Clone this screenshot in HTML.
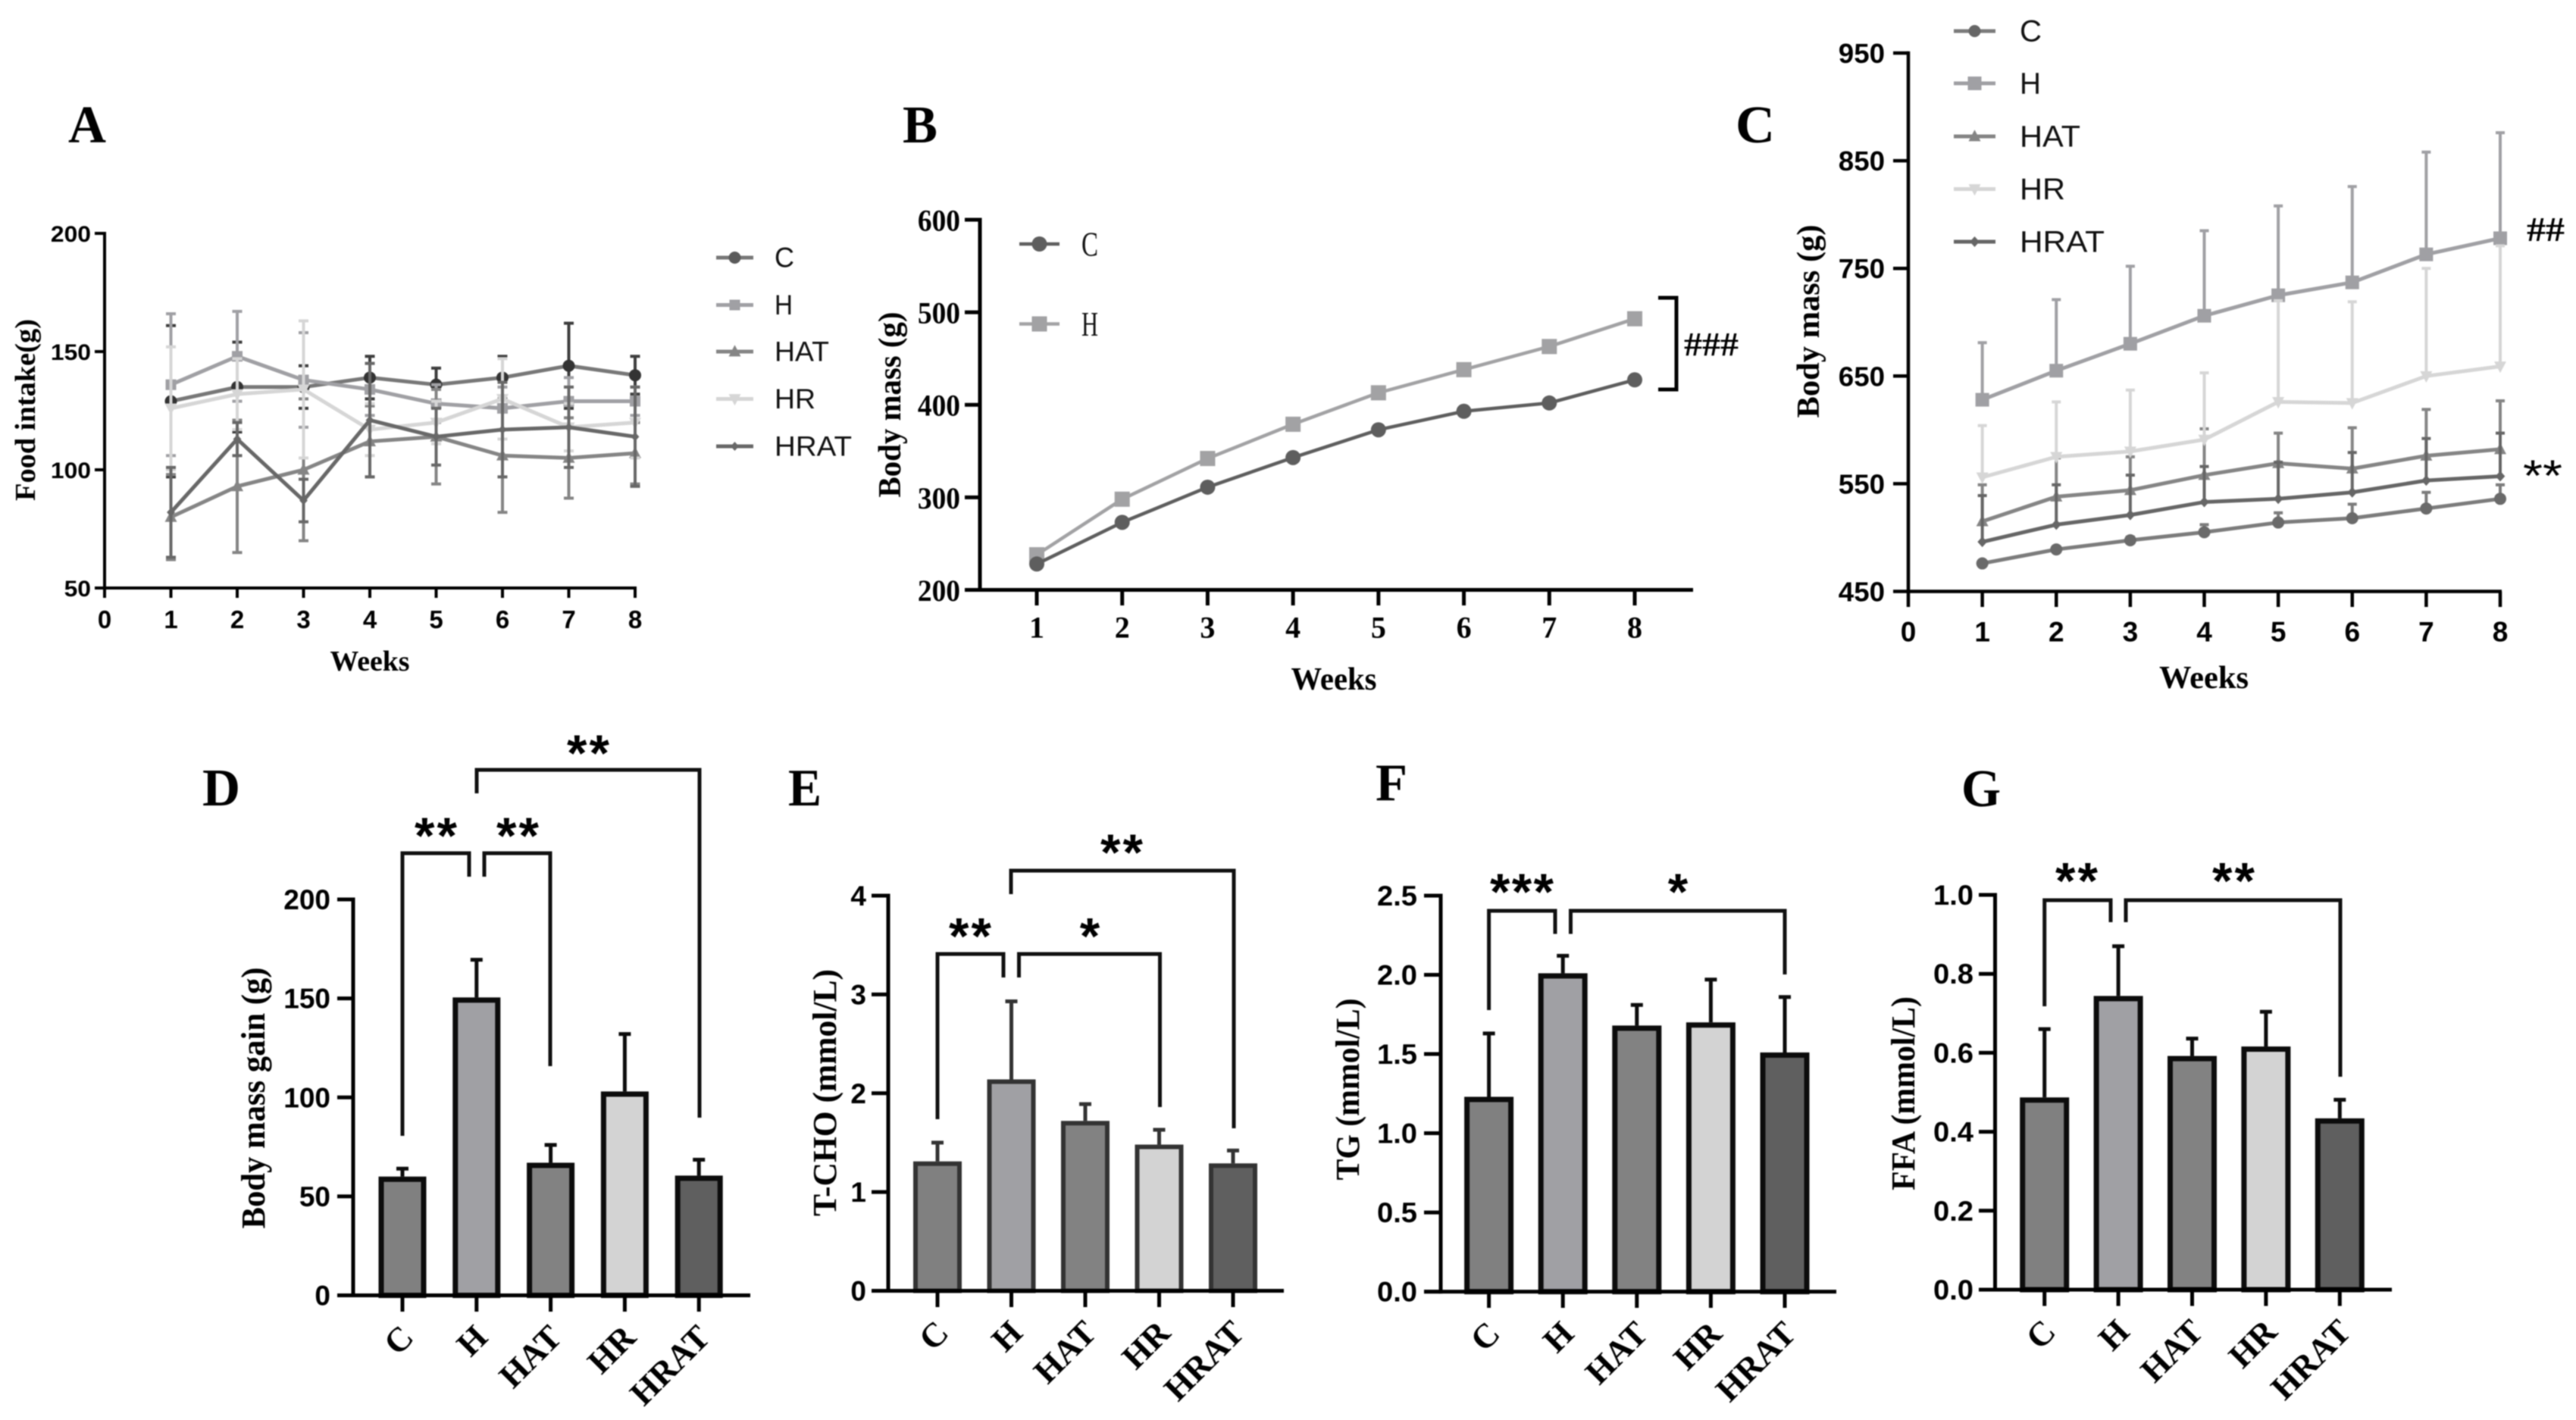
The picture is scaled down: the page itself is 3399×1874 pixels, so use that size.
<!DOCTYPE html>
<html lang="en">
<head>
<meta charset="utf-8">
<title>Body mass, food intake and serum lipid figure</title>
<style>
html,body{margin:0;padding:0;background:#fff;}
body{width:3399px;height:1874px;overflow:hidden;}
#figure{display:block;filter:blur(0.9px);}
</style>
</head>
<body>
<svg id="figure" xmlns="http://www.w3.org/2000/svg" width="3399" height="1874" viewBox="0 0 3399 1874"></svg>
<script>
/* ---------- shared categories ---------- */
const weeks = [1, 2, 3, 4, 5, 6, 7, 8];
const groups = ['C', 'H', 'HAT', 'HR', 'HRAT'];

/* ---------- panel A: food intake ---------- */
const foodC = [129, 135, 135, 139, 136, 139, 144, 140];
const foodH = [136, 148, 138, 134, 128, 126, 129, 129];
const foodHAT = [80, 93, 100, 112, 114, 106, 105, 107];
const foodHR = [126, 132, 134, 117, 120, 130, 118, 120];
const foodHRAT = [82, 113, 87, 121, 114, 117, 118, 114];
const foodErrC = [32, 19, 9, 9, 7, 9, 18, 8];
const foodErrH = [30, 19, 20, 11, 8, 9, 10, 6];
const foodErrHAT = [18, 28, 30, 15, 20, 24, 17, 13];
const foodErrHR = [26, 15, 29, 11, 9, 17, 10, 15];
const foodErrHRAT = [19, 7, 9, 24, 12, 20, 17, 21];
const foodYTicks = ['50', '100', '150', '200'];
const foodXTicks = ['0', '1', '2', '3', '4', '5', '6', '7', '8'];

/* ---------- panel B: body mass, C vs H ---------- */
const massBC = [228, 273, 311, 343, 373, 393, 402, 427];
const massBH = [238, 298, 342, 379, 413, 438, 463, 493];
const massBYTicks = ['200', '300', '400', '500', '600'];
const massBXTicks = ['1', '2', '3', '4', '5', '6', '7', '8'];

/* ---------- panel C: body mass, all groups ---------- */
const massCC = [476, 489, 497.5, 505, 514, 518, 527, 536];
const massCH = [628, 655, 680, 706, 725, 737, 763, 778];
const massCHAT = [515, 538, 544, 558, 569, 564, 576, 582];
const massCHR = [556, 575, 580, 591, 626, 625, 650, 659];
const massCHRAT = [496, 512, 521, 533, 536, 542, 553, 557];
const massErrC = [2, 2, 3, 7, 9, 13, 15, 13];
const massErrH = [53, 66, 72, 79, 83, 89, 95, 98];
const massErrHAT = [34, 36, 31, 43, 28, 38, 43, 45];
const massErrHR = [48, 51, 57, 62, 94, 94, 100, 112];
const massErrHRAT = [43, 37, 37, 33, 34, 37, 39, 40];
const massCYTicks = ['450', '550', '650', '750', '850', '950'];
const massCXTicks = ['0', '1', '2', '3', '4', '5', '6', '7', '8'];

/* ---------- panels D-G: bars ---------- */
const gainValues = [60, 150.5, 67, 103, 60.5];
const gainErrors = [4, 19, 9, 29, 8];
const gainTicks = ['0', '50', '100', '150', '200'];
const tchoValues = [1.31, 2.14, 1.72, 1.48, 1.29];
const tchoErrors = [0.19, 0.79, 0.17, 0.15, 0.13];
const tchoTicks = ['0', '1', '2', '3', '4'];
const tgValues = [1.23, 2.01, 1.68, 1.7, 1.51];
const tgErrors = [0.4, 0.11, 0.13, 0.27, 0.35];
const tgTicks = ['0.0', '0.5', '1.0', '1.5', '2.0', '2.5'];
const ffaValues = [0.487, 0.744, 0.592, 0.616, 0.434];
const ffaErrors = [0.173, 0.126, 0.044, 0.088, 0.047];
const ffaTicks = ['0.0', '0.2', '0.4', '0.6', '0.8', '1.0'];

/* ---------- helpers ---------- */
const NS = 'http://www.w3.org/2000/svg';
const root = document.getElementById('figure');
const SERIF = '"Liberation Serif", serif';
const SANS = '"Liberation Sans", sans-serif';
const barFills = ['#808080', '#a0a0a4', '#828282', '#d3d3d3', '#5f5f5f'];

function scale(d0, d1, r0, r1) {
  return function (v) { return r0 + (v - d0) / (d1 - d0) * (r1 - r0); };
}
function make(tag, attrs, parent) {
  const el = document.createElementNS(NS, tag);
  for (const k in attrs) el.setAttribute(k, attrs[k]);
  (parent || root).appendChild(el);
  return el;
}
function group(parent) {
  return make('g', {}, parent);
}
function seg(parent, x1, y1, x2, y2, color, w) {
  return make('line', { x1: x1, y1: y1, x2: x2, y2: y2, stroke: color, 'stroke-width': w }, parent);
}
function label(parent, str, x, y, o) {
  const a = {
    x: x, y: y, fill: o.fill || '#000', 'font-family': o.family || SANS,
    'font-size': o.size, 'font-weight': o.weight || 'bold', 'text-anchor': o.anchor || 'middle'
  };
  if (o.len) { a.textLength = o.len; a.lengthAdjust = o.adjust || 'spacingAndGlyphs'; }
  if (o.rot !== undefined) a.transform = 'rotate(' + o.rot + ' ' + x + ' ' + y + ')';
  const t = make('text', a, parent);
  t.textContent = str;
  return t;
}
function marker(parent, kind, x, y, s, fill) {
  if (kind === 'circle') return make('circle', { cx: x, cy: y, r: s, fill: fill }, parent);
  if (kind === 'square') return make('rect', { x: x - s, y: y - s, width: 2 * s, height: 2 * s, fill: fill }, parent);
  let pts;
  if (kind === 'up') pts = [[x, y - s * 1.1], [x + s, y + s * 0.8], [x - s, y + s * 0.8]];
  else if (kind === 'down') pts = [[x, y + s * 1.1], [x + s, y - s * 0.8], [x - s, y - s * 0.8]];
  else pts = [[x, y - s], [x + s * 0.9, y], [x, y + s], [x - s * 0.9, y]];
  return make('polygon', { points: pts.map(function (p) { return p.join(','); }).join(' '), fill: fill }, parent);
}
function panelLetter(str, x, y, w) {
  const t = label(root, str, x, y, { family: SERIF, size: 70, anchor: 'start', len: w });
  
  
}

/* ---------- line chart ---------- */
function lineChart(cfg) {
  const g = group();
  
  
  const X = scale(cfg.xDomain[0], cfg.xDomain[1], cfg.x0, cfg.x1);
  const Y = scale(cfg.yDomain[0], cfg.yDomain[1], cfg.yBottom, cfg.yTop);

  const ya = seg(g, cfg.spine, cfg.yTop - cfg.axisW / 2, cfg.spine, cfg.yBottom + cfg.axisW / 2, '#000', cfg.axisW);
  
  
  const xa = seg(g, cfg.spine - cfg.axisW / 2, cfg.yBottom, cfg.xEnd, cfg.yBottom, '#000', cfg.axisW);
  
  

  cfg.yTicks.forEach(function (s) {
    const v = parseFloat(s);
    const tick = seg(g, cfg.tickLeft, Y(v), cfg.spine, Y(v), '#000', cfg.axisW);
    
    
    const t = label(g, s, cfg.yLabelRight, Y(v) + cfg.ySize * 0.36, { family: cfg.tickFamily, size: cfg.ySize, anchor: 'end', len: cfg.yCharW * s.length });
    
    
  });
  cfg.xTicks.forEach(function (s) {
    const v = parseFloat(s);
    const tick = seg(g, X(v), cfg.yBottom, X(v), cfg.tickBottom, '#000', cfg.axisW);
    
    
    const t = label(g, s, X(v), cfg.xLabelY + cfg.xSize * 0.36, { family: cfg.tickFamily, size: cfg.xSize });
    
    
  });

  const xt = label(g, 'Weeks', cfg.xTitle[0], cfg.xTitle[1], { family: SERIF, size: cfg.titleSize, len: cfg.xTitle[2] });
  
  
  const yt = label(g, cfg.yTitle[0], cfg.yTitle[1], cfg.yTitle[2], { family: SERIF, size: cfg.titleSize, len: cfg.yTitle[3], rot: -90 });
  
  

  cfg.series.forEach(function (s) {
    const sg = group(g);
    
    
    if (s.errors) {
      weeks.forEach(function (w, i) {
        const up = s.values[i] + s.errors[i];
        const lo = cfg.both ? s.values[i] - s.errors[i] : s.values[i];
        const col = s.errColor || s.color;
        const bar = seg(sg, X(w), Y(lo), X(w), Y(up), col, cfg.errW);
        
        
        const cap = seg(sg, X(w) - cfg.cap, Y(up), X(w) + cfg.cap, Y(up), col, cfg.errW);
        
        
        if (cfg.both) {
          const cap2 = seg(sg, X(w) - cfg.cap, Y(lo), X(w) + cfg.cap, Y(lo), col, cfg.errW);
          
          
        }
      });
    }
    const d = weeks.map(function (w, i) { return X(w) + ',' + Y(s.values[i]); }).join(' ');
    const line = make('polyline', { points: d, fill: 'none', stroke: s.color, 'stroke-width': cfg.lineW, 'stroke-linejoin': 'round' }, sg);
    
    
    weeks.forEach(function (w, i) {
      const m = marker(sg, s.kind, X(w), Y(s.values[i]), s.size, s.markColor || s.color);
      
      
    });
  });

  const L = cfg.legend;
  cfg.series.forEach(function (s, i) {
    const lg = group(g);
    
    
    const y = L.ys[i];
    seg(lg, L.x0, y, L.x1, y, s.color, cfg.lineW);
    marker(lg, s.kind, (L.x0 + L.x1) / 2, y, s.size, s.legendMark || s.color);
    label(lg, s.name, L.textX, y + L.size * 0.34, {
      family: L.family, size: L.size, weight: 'normal', anchor: 'start', fill: '#111',
      len: L.lens ? L.lens[i] : undefined
    });
  });
  return { g: g, X: X, Y: Y };
}

/* ---------- bar chart ---------- */
function barChart(cfg) {
  const g = group();
  
  
  const top = parseFloat(cfg.ticks[cfg.ticks.length - 1]);
  const Y = scale(0, top, cfg.y0, cfg.yTop);
  const X = function (i) { return cfg.x1st + i * cfg.step; };

  groups.forEach(function (name, i) {
    const v = cfg.values[i];
    const e = cfg.errors[i];
    const cx = X(i);
    const bar = seg(g, cx, Y(v + e), cx, Y(v), cfg.border, cfg.errW);
    
    
    const cap = seg(g, cx - cfg.cap, Y(v + e), cx + cfg.cap, Y(v + e), cfg.border, cfg.errW);
    
    
    const r = make('rect', {
      x: cx - cfg.barW / 2 + cfg.barStroke / 2, y: Y(v) + cfg.barStroke / 2,
      width: cfg.barW - cfg.barStroke, height: cfg.y0 - Y(v) - cfg.barStroke / 2,
      fill: barFills[i], stroke: cfg.border, 'stroke-width': cfg.barStroke
    }, g);
    
    
    const tick = seg(g, cx, cfg.y0, cx, cfg.tickBottom, '#000', cfg.axisW);
    
    
    const t = label(g, name, cx + 17, cfg.y0 + 58, { family: SERIF, size: 45, anchor: 'end', rot: -45 });
    
    
  });

  const ya = seg(g, cfg.x0, cfg.yTop - cfg.axisW / 2, cfg.x0, cfg.y0 + cfg.axisW / 2, '#000', cfg.axisW);
  
  
  const xa = seg(g, cfg.tickLeft, cfg.y0, cfg.xEnd, cfg.y0, '#000', cfg.axisW);
  
  

  cfg.ticks.forEach(function (s) {
    const v = parseFloat(s);
    const tick = seg(g, cfg.tickLeft, Y(v), cfg.x0, Y(v), '#000', cfg.axisW);
    
    
    const t = label(g, s, cfg.labelRight, Y(v) + 13, { size: 37, anchor: 'end', len: s.length === 3 && s.indexOf('.') > 0 ? 53 : undefined });
    
    
  });

  const yt = label(g, cfg.title[0], cfg.title[1] + 14, cfg.title[2], { family: SERIF, size: 44, len: cfg.title[3], rot: -90 });
  
  

  cfg.brackets.forEach(function (b) {
    const path = make('polyline', {
      points: b[0] + ',' + b[3] + ' ' + b[0] + ',' + b[2] + ' ' + b[1] + ',' + b[2] + ' ' + b[1] + ',' + b[4],
      fill: 'none', stroke: '#111', 'stroke-width': 5
    }, g);
    
    
  });
  cfg.stars.forEach(function (s) {
    const t = label(g, s[0], s[1], s[2] + 34, { size: 68, len: s[0].length * 28, adjust: 'spacing' });
    
    
  });
}

/* ---------- panel letters ---------- */
panelLetter('A', 90, 188, 50);
panelLetter('B', 1191, 188, 46);
panelLetter('C', 2290, 188, 52);
panelLetter('D', 267, 1063, 50);
panelLetter('E', 1040, 1063, 44);
panelLetter('F', 1815, 1056, 42);
panelLetter('G', 2588, 1064, 52);

/* ---------- panel A ---------- */
lineChart({
  name: 'food-intake-chart', xDomain: [0, 8], yDomain: [50, 200],
  spine: 138, x0: 138, x1: 838, xEnd: 840, yBottom: 776, yTop: 308, axisW: 4,
  tickLeft: 125, tickBottom: 789, yLabelRight: 120, ySize: 30, yCharW: 17.7,
  xLabelY: 817, xSize: 33, tickFamily: SANS, titleSize: 38,
  xTitle: [488, 885, 105], yTitle: ['Food intake(g)', 46, 541, 240],
  yTicks: foodYTicks, xTicks: foodXTicks, lineW: 5, errW: 4, cap: 6.5, both: true,
  series: [
    { name: 'C', values: foodC, errors: foodErrC, kind: 'circle', size: 8, color: '#787878', errColor: '#3e3e3e', markColor: '#333', legendMark: '#5a5a5a' },
    { name: 'H', values: foodH, errors: foodErrH, kind: 'square', size: 7, color: '#a0a0a4' },
    { name: 'HAT', values: foodHAT, errors: foodErrHAT, kind: 'up', size: 8, color: '#858585' },
    { name: 'HR', values: foodHR, errors: foodErrHR, kind: 'down', size: 8, color: '#d6d6d6' },
    { name: 'HRAT', values: foodHRAT, errors: foodErrHRAT, kind: 'diamond', size: 6, color: '#686868' }
  ],
  legend: { x0: 945, x1: 994, textX: 1022, size: 37, family: SANS, ys: [340, 402.5, 464, 526.5, 589], lens: [26, 24, 72, 54, 102] }
});

/* ---------- panel B ---------- */
const chartB = lineChart({
  name: 'body-mass-chart-b', xDomain: [1, 8], yDomain: [200, 600],
  spine: 1293, x0: 1368, x1: 2157, xEnd: 2234, yBottom: 778.5, yTop: 290, axisW: 5,
  tickLeft: 1273, tickBottom: 799, yLabelRight: 1267, ySize: 40, yCharW: 18.7,
  xLabelY: 827, xSize: 40, tickFamily: SERIF, titleSize: 42,
  xTitle: [1760, 910, 113], yTitle: ['Body mass (g)', 1188, 534, 245],
  yTicks: massBYTicks, xTicks: massBXTicks, lineW: 4.5, errW: 3, cap: 6, both: false,
  series: [
    { name: 'H', values: massBH, kind: 'square', size: 10, color: '#a2a2a4' },
    { name: 'C', values: massBC, kind: 'circle', size: 10, color: '#5e5e5e' }
  ],
  legend: { x0: 1345, x1: 1398, textX: 1427, size: 46, family: SERIF, ys: [427.5, 322], lens: [22, 22] }
});
const bracketB = make('polyline', { points: '2188,393 2212,393 2212,514 2188,514', fill: 'none', stroke: '#000', 'stroke-width': 5 }, chartB.g);


const hashB = label(chartB.g, '###', 2258, 469, { family: SERIF, size: 44, len: 72 });



/* ---------- panel C ---------- */
const chartC = lineChart({
  name: 'body-mass-chart-c', xDomain: [0, 8], yDomain: [450, 950],
  spine: 2518, x0: 2518, x1: 3299, xEnd: 3301, yBottom: 780.5, yTop: 70, axisW: 4.5,
  tickLeft: 2498, tickBottom: 801, yLabelRight: 2487, ySize: 36, yCharW: 20.4,
  xLabelY: 833, xSize: 37, tickFamily: SANS, titleSize: 42,
  xTitle: [2908, 908, 118], yTitle: ['Body mass (g)', 2400, 424, 255],
  yTicks: massCYTicks, xTicks: massCXTicks, lineW: 5, errW: 4, cap: 6, both: false,
  series: [
    { name: 'C', values: massCC, errors: massErrC, kind: 'circle', size: 8, color: '#7c7c7c', markColor: '#6a6a6a', legendMark: '#666' },
    { name: 'H', values: massCH, errors: massErrH, kind: 'square', size: 9, color: '#a0a0a4' },
    { name: 'HAT', values: massCHAT, errors: massErrHAT, kind: 'up', size: 8, color: '#858585' },
    { name: 'HR', values: massCHR, errors: massErrHR, kind: 'down', size: 8, color: '#d6d6d6' },
    { name: 'HRAT', values: massCHRAT, errors: massErrHRAT, kind: 'diamond', size: 7, color: '#666' }
  ],
  legend: { x0: 2578, x1: 2633, textX: 2665, size: 40, family: SANS, ys: [41, 110, 180, 249.5, 319], lens: [29, 28, 80, 60, 112] }
});
const hashC = label(chartC.g, '##', 3359, 318, { family: SERIF, size: 46, len: 50 });


const starC = label(chartC.g, '**', 3355, 648, { size: 58, weight: 'normal', len: 52 });



/* ---------- panel D ---------- */
barChart({
  name: 'body-mass-gain-chart', values: gainValues, errors: gainErrors, ticks: gainTicks,
  x0: 466, xEnd: 990, tickLeft: 445, y0: 1709.5, yTop: 1187, tickBottom: 1731, labelRight: 436,
  x1st: 531, step: 97.8, barW: 63, barStroke: 7, errW: 5, cap: 8, axisW: 5, border: '#0c0c0c',
  title: ['Body mass gain (g)', 335, 1449, 345],
  brackets: [[531, 619, 1126, 1499, 1157], [639, 726, 1126, 1157, 1407], [629, 923, 1016, 1047, 1475]],
  stars: [['**', 575, 1092], ['**', 683, 1092], ['**', 776, 983]]
});

/* ---------- panel E ---------- */
barChart({
  name: 'tcho-chart', values: tchoValues, errors: tchoErrors, ticks: tchoTicks,
  x0: 1172, xEnd: 1694, tickLeft: 1150, y0: 1703.5, yTop: 1182, tickBottom: 1725, labelRight: 1143,
  x1st: 1237, step: 97.5, barW: 64, barStroke: 6, errW: 5, cap: 8, axisW: 5, border: '#333',
  title: ['T-CHO (mmol/L)', 1089, 1442, 326],
  brackets: [[1237, 1324, 1259, 1477, 1290], [1344.5, 1530.5, 1259, 1290, 1461], [1334, 1628, 1149, 1180, 1489]],
  stars: [['**', 1280, 1224.6], ['*', 1438, 1224.6], ['**', 1480, 1114]]
});

/* ---------- panel F ---------- */
barChart({
  name: 'tg-chart', values: tgValues, errors: tgErrors, ticks: tgTicks,
  x0: 1901, xEnd: 2423, tickLeft: 1879, y0: 1704.6, yTop: 1182, tickBottom: 1726, labelRight: 1870,
  x1st: 1964.6, step: 97.6, barW: 65, barStroke: 7, errW: 5, cap: 8, axisW: 5, border: '#0c0c0c',
  title: ['TG (mmol/L)', 1779, 1437.5, 240],
  brackets: [[1964.6, 2052, 1202, 1333, 1232.5], [2072.5, 2355, 1202, 1232.5, 1286]],
  stars: [['***', 2008, 1166], ['*', 2214, 1166]]
});

/* ---------- panel G ---------- */
barChart({
  name: 'ffa-chart', values: ffaValues, errors: ffaErrors, ticks: ffaTicks,
  x0: 2632.5, xEnd: 3156, tickLeft: 2611, y0: 1702, yTop: 1181, tickBottom: 1723.5, labelRight: 2604,
  x1st: 2697.7, step: 97.4, barW: 65, barStroke: 7, errW: 5, cap: 8, axisW: 5, border: '#0c0c0c',
  title: ['FFA (mmol/L)', 2512, 1443, 256],
  brackets: [[2697.7, 2785, 1188, 1328, 1217], [2805, 3088, 1188, 1217, 1421]],
  stars: [['**', 2740, 1151.6], ['**', 2947, 1151.6]]
});
</script>
</body>
</html>
